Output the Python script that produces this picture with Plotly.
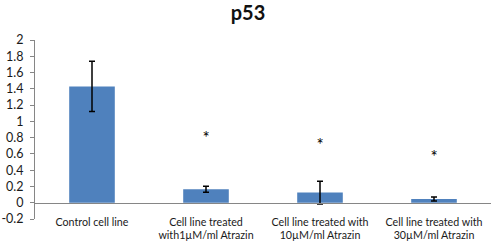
import plotly.graph_objects as go

categories = ["Control cell line",
              "Cell line treated<br>with1µM/ml Atrazin",
              "Cell line treated with<br>10µM/ml Atrazin",
              "Cell line treated with<br>30µM/ml Atrazin"]
values = [1.43, 0.165, 0.125, 0.045]
errors = [0.31, 0.037, 0.14, 0.025]
star_y = [None, 0.775, 0.69, 0.54]
star_text = ["", "*", "*", "*"]
y_ticks = [-0.2, 0, 0.2, 0.4, 0.6, 0.8, 1, 1.2, 1.4, 1.6, 1.8, 2]
y_tick_labels = ["-0.2", "0", "0.2", "0.4", "0.6", "0.8", "1", "1.2", "1.4", "1.6", "1.8", "2"]

fig = go.Figure()
fig.add_trace(go.Bar(
    x=categories, y=values, width=0.4,
    marker=dict(color="#4F81BD", line=dict(width=0)),
    error_y=dict(type="data", array=errors, visible=True, color="#000000",
                 thickness=1.5, width=3),
    showlegend=False, hoverinfo="skip"))
fig.add_trace(go.Scatter(
    x=categories, y=star_y, text=star_text, mode="text",
    textposition="middle center",
    textfont=dict(family="Lato, sans-serif", size=17, color="#000000"),
    showlegend=False, hoverinfo="skip"))

fig.update_layout(
    width=496, height=246,
    margin=dict(l=35, r=5, t=40, b=27, autoexpand=False),
    paper_bgcolor="white", plot_bgcolor="white",
    title=dict(text="<b>p53</b>", x=0.5, xanchor="center", y=0.975, yanchor="top",
               font=dict(family="Lato, sans-serif", size=20, color="#111111")),
    font=dict(family="Lato, sans-serif", size=12, color="#1a1a1a"),
    bargap=0.6,
)
fig.update_yaxes(range=[-0.2, 2], tickvals=y_ticks, ticktext=y_tick_labels,
                 showgrid=False, zeroline=False, showline=True, linecolor="#868686",
                 linewidth=1, ticks="outside", ticklen=4, tickcolor="#868686",
                 ticklabelstandoff=4, tickfont=dict(size=12.5),
                 automargin=False, fixedrange=True)
fig.update_xaxes(anchor="free", position=0.2 / 2.2, showgrid=False, zeroline=False,
                 showline=True, linecolor="#868686", linewidth=1, ticks="",
                 ticklabelstandoff=9, tickfont=dict(size=10.7),
                 automargin=False, tickangle=0, fixedrange=True)

fig.write_html("out.html", config={"displayModeBar": False, "staticPlot": True},
               post_script="document.body.style.margin='0';document.body.style.overflow='hidden';")
